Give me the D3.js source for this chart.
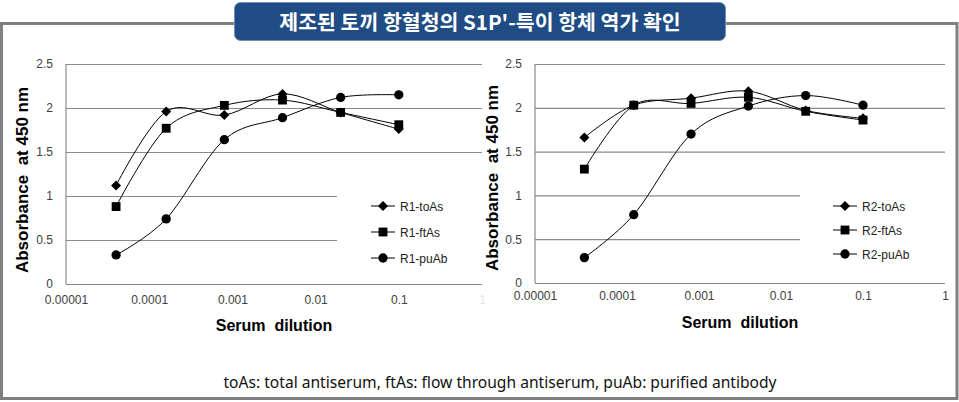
<!DOCTYPE html>
<html><head><meta charset="utf-8">
<script src="https://cdn.jsdelivr.net/npm/d3@7"></script>
<style>html,body{margin:0;padding:0;background:#fff;}svg{display:block;} text.pre{white-space:pre;}</style>
</head><body>
<svg id="c" width="959" height="402"></svg>
<script>
// ---- data ----
const dilutions = [0.00004, 0.00016, 0.0008, 0.004, 0.02, 0.1];
const r1_toAs = [1.12, 1.96, 1.92, 2.16, 1.95, 1.76];
const r1_ftAs = [0.88, 1.77, 2.03, 2.09, 1.95, 1.81];
const r1_puAb = [0.33, 0.74, 1.64, 1.89, 2.12, 2.15];
const r2_toAs = [1.66, 2.03, 2.11, 2.19, 1.97, 1.88];
const r2_ftAs = [1.30, 2.03, 2.05, 2.12, 1.96, 1.86];
const r2_puAb = [0.29, 0.78, 1.70, 2.02, 2.14, 2.03];
const xTicks = [0.00001, 0.0001, 0.001, 0.01, 0.1, 1];
const xTickLabels = ["0.00001", "0.0001", "0.001", "0.01", "0.1", "1"];
const yTicks = [0, 0.5, 1, 1.5, 2, 2.5];
const legendR1 = ["R1-toAs", "R1-ftAs", "R1-puAb"];
const legendR2 = ["R2-toAs", "R2-ftAs", "R2-puAb"];
const markerTypes = ["diamond", "square", "circle"];
const titleText = "제조된 토끼 항혈청의 S1P'-특이 항체 역가 확인";
const yTitle = "Absorbance  at 450 nm";
const xTitle = "Serum  dilution";
const footText = "toAs: total antiserum, ftAs: flow through antiserum, puAb: purified antibody";

const svg = d3.select("#c");
const grid = "#8a8a8a";

// outer frame
svg.append("rect").attr("x", 1.5).attr("y", 23.5).attr("width", 955.5).attr("height", 375)
  .attr("fill", "none").attr("stroke", "#808080").attr("stroke-width", 3);

// title box
svg.append("rect").attr("x", 234.5).attr("y", 2.5).attr("width", 491).attr("height", 38)
  .attr("rx", 6).attr("fill", "#1f4c84").attr("stroke", "#6f8fb8").attr("stroke-width", 1);
svg.append("text").attr("x", 480).attr("y", 29.5).attr("text-anchor", "middle")
  .attr("font-family", "'Noto Sans CJK KR', sans-serif").attr("font-weight", "bold")
  .attr("font-size", 20.5).attr("fill", "#fff").text(titleText);

const diamondPath = "M0,-5L5,0L0,5L-5,0Z";
function symbolFor(t) {
  if (t === "diamond") return diamondPath;
  if (t === "square") return d3.symbol().type(d3.symbolSquare).size(78)();
  return d3.symbol().type(d3.symbolCircle).size(68)();
}

function drawChart(cfg) {
  const g = svg.append("g");
  const x = d3.scaleLog().domain([0.00001, 1]).range([cfg.left, cfg.right]);
  const y = d3.scaleLinear().domain([0, 2.5]).range([cfg.bottom, cfg.top]);

  // y axis with gridlines
  const ya = g.append("g").attr("transform", `translate(${cfg.left},0)`)
    .call(d3.axisLeft(y).tickValues(yTicks).tickFormat(d3.format("")).tickSize(-(cfg.right - cfg.left)).tickPadding(13));
  ya.select(".domain").remove();
  ya.selectAll(".tick line").attr("stroke", grid).attr("stroke-width", 1.2);
  ya.selectAll(".tick text").attr("font-family", "'Liberation Sans', Arial, sans-serif")
    .attr("font-size", 12).attr("fill", "#404040");
  g.append("line").attr("x1", cfg.left).attr("x2", cfg.left).attr("y1", y(2.5)).attr("y2", y(0))
    .attr("stroke", grid).attr("stroke-width", 1.2);

  // x axis labels
  const xa = g.append("g").attr("transform", `translate(0,${cfg.bottom})`)
    .call(d3.axisBottom(x).tickValues(xTicks).tickFormat((d, i) => xTickLabels[i]).tickSize(0).tickPadding(cfg.xPad));
  xa.select(".domain").remove();
  xa.selectAll(".tick text").attr("font-family", "'Liberation Sans', Arial, sans-serif")
    .attr("font-size", 12).attr("fill", (d, i) => (i === xTicks.length - 1 && cfg.hideLast) ? "#e4e4e4" : "#404040");

  // legend background (covers gridlines)
  g.append("rect").attr("x", cfg.legX).attr("y", 172).attr("width", cfg.right - cfg.legX + 1).attr("height", 96)
    .attr("fill", "#fff");

  // series
  const line = d3.line().x((d, i) => x(dilutions[i])).y(d => y(d)).curve(d3.curveCatmullRom.alpha(0));
  cfg.series.forEach((s, k) => {
    g.append("path").attr("d", line(s)).attr("fill", "none").attr("stroke", "#000").attr("stroke-width", 1);
    g.selectAll(null).data(s).enter().append("path")
      .attr("transform", (d, i) => `translate(${x(dilutions[i])},${y(d)})`)
      .attr("d", symbolFor(markerTypes[k])).attr("fill", "#000");
  });

  // legend
  cfg.legend.forEach((name, k) => {
    const ly = cfg.legY[k];
    g.append("line").attr("x1", cfg.legLine).attr("x2", cfg.legLine + 24).attr("y1", ly).attr("y2", ly)
      .attr("stroke", "#000").attr("stroke-width", 1);
    g.append("path").attr("transform", `translate(${cfg.legLine + 12},${ly})`)
      .attr("d", symbolFor(markerTypes[k])).attr("fill", "#000");
    g.append("text").attr("x", cfg.legLine + 29).attr("y", ly + 4.5)
      .attr("font-family", "'Liberation Sans', Arial, sans-serif").attr("font-size", 12).attr("fill", "#222").text(name);
  });

  // axis titles
  g.append("text").attr("class", "pre").attr("transform", `translate(${cfg.yTitleX},${cfg.yTitleY}) rotate(-90)`)
    .attr("text-anchor", "middle").attr("font-family", "'Liberation Sans', Arial, sans-serif")
    .attr("font-weight", "bold").attr("font-size", 17).attr("fill", "#000").text(yTitle);
  g.append("text").attr("class", "pre").attr("x", cfg.xTitleX).attr("y", cfg.xTitleY)
    .attr("text-anchor", "middle").attr("font-family", "'Liberation Sans', Arial, sans-serif")
    .attr("font-weight", "bold").attr("font-size", 16).attr("fill", "#000").text(xTitle);
}

drawChart({
  left: 66, right: 482, top: 64, bottom: 284, xPad: 11, hideLast: true,
  series: [r1_toAs, r1_ftAs, r1_puAb], legend: legendR1,
  legX: 337, legLine: 371, legY: [206, 232, 258],
  yTitleX: 28, yTitleY: 180, xTitleX: 274, xTitleY: 331
});
drawChart({
  left: 535, right: 945, top: 64, bottom: 283, xPad: 8, hideLast: false,
  series: [r2_toAs, r2_ftAs, r2_puAb], legend: legendR2,
  legX: 800, legLine: 833, legY: [206, 230, 254],
  yTitleX: 498, yTitleY: 178, xTitleX: 740, xTitleY: 328
});

// footer
svg.append("text").attr("x", 500).attr("y", 388).attr("text-anchor", "middle")
  .attr("font-family", "'Noto Sans', sans-serif").attr("font-size", 15.6).attr("fill", "#111").text(footText);
</script>
</body></html>
